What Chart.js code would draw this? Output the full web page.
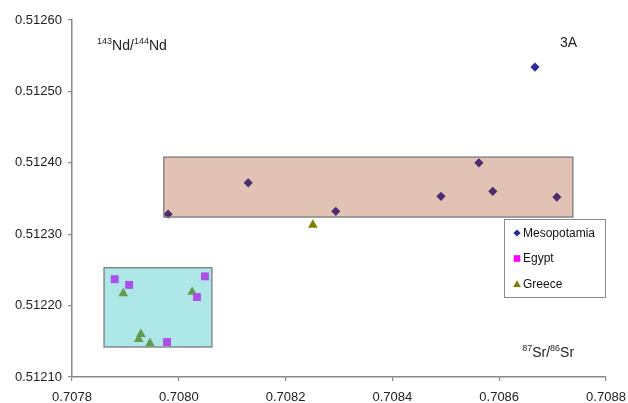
<!DOCTYPE html>
<html>
<head>
<meta charset="utf-8">
<script src="https://cdn.jsdelivr.net/npm/chart.js@4.4.1/dist/chart.umd.min.js"></script>
<style>
html, body { margin: 0; padding: 0; background: #fff; }
#wrap { width: 628px; height: 403px; }
</style>
</head>
<body>
<div id="wrap"><canvas id="chart" width="628" height="403"></canvas></div>
<script>
// 87Sr/86Sr (x) vs 143Nd/144Nd (y)
const mesoX = [0.708667, 0.708562, 0.708491, 0.708588, 0.708708, 0.707980, 0.708130, 0.708294];
const mesoY = [0.512534, 0.512400, 0.512353, 0.512360, 0.512352, 0.512328, 0.512372, 0.512332];
const egyptX = [0.707880, 0.707907, 0.708049, 0.708034, 0.707978];
const egyptY = [0.512237, 0.512229, 0.512241, 0.512212, 0.512149];
const greeceX = [0.708251, 0.707896, 0.708025, 0.707929, 0.707925, 0.707946];
const greeceY = [0.512313, 0.512217, 0.512219, 0.512160, 0.512153, 0.512147];

// shaded fields (pink = Mesopotamia, cyan = Egypt/Greece)
const boxXMin = [0.707972, 0.707860];
const boxXMax = [0.708738, 0.708062];
const boxYMin = [0.512324, 0.512142];
const boxYMax = [0.512408, 0.512253];

const xTicks = [0.7078, 0.7080, 0.7082, 0.7084, 0.7086, 0.7088];
const yTicks = [0.51210, 0.51220, 0.51230, 0.51240, 0.51250, 0.51260];

const FONT = '"Liberation Sans", Arial, sans-serif';
const boxFills = ['rgba(158, 52, 5, 0.3)', 'rgba(52, 195, 198, 0.4)'];

const toPoints = (xs, ys) => xs.map((x, i) => ({ x: x, y: ys[i] }));

function drawSup(ctx, parts, x, y, size) {
    let cx = x;
    parts.forEach(([t, sup]) => {
        ctx.font = (sup ? Math.round(size * 0.62) : size) + 'px ' + FONT;
        ctx.fillText(t, cx, sup ? y - size * 0.3 : y);
        cx += ctx.measureText(t).width;
    });
}

function marker(ctx, style, x, y, r, color) {
    ctx.fillStyle = color;
    ctx.beginPath();
    if (style === 'rectRot') {
        ctx.moveTo(x, y - r); ctx.lineTo(x + r, y); ctx.lineTo(x, y + r); ctx.lineTo(x - r, y);
    } else if (style === 'rect') {
        ctx.rect(x - r, y - r, 2 * r, 2 * r);
    } else {
        ctx.moveTo(x, y - r); ctx.lineTo(x + r, y + r * 0.8); ctx.lineTo(x - r, y + r * 0.8);
    }
    ctx.closePath();
    ctx.fill();
}

const overlay = {
    id: 'overlay',
    afterDatasetsDraw(chart) {
        const { ctx, scales: { x, y } } = chart;
        ctx.save();
        boxXMin.forEach((v, i) => {
            const l = x.getPixelForValue(v), r = x.getPixelForValue(boxXMax[i]);
            const t = y.getPixelForValue(boxYMax[i]), b = y.getPixelForValue(boxYMin[i]);
            ctx.fillStyle = boxFills[i];
            ctx.fillRect(l, t, r - l, b - t);
            ctx.strokeStyle = '#7a7a7a';
            ctx.lineWidth = 1.3;
            ctx.strokeRect(l, t, r - l, b - t);
        });
        ctx.restore();
    },
    afterDraw(chart) {
        const { ctx, chartArea, scales: { x, y } } = chart;
        ctx.save();
        ctx.fillStyle = '#222';
        ctx.textBaseline = 'middle';
        ctx.textAlign = 'left';
        drawSup(ctx, [['143', true], ['Nd/', false], ['144', true], ['Nd', false]],
            x.getPixelForValue(0.707847), y.getPixelForValue(0.512564), 14);
        drawSup(ctx, [['87', true], ['Sr/', false], ['86', true], ['Sr', false]],
            x.getPixelForValue(0.708643), y.getPixelForValue(0.512134), 14);
        ctx.font = '14px ' + FONT;
        ctx.fillText('3A', x.getPixelForValue(0.708714), y.getPixelForValue(0.512568));

        // legend box
        const lw = 101, lh = 78;
        const lx = chartArea.right - lw - 1, ly = chartArea.top + 199;
        ctx.fillStyle = '#fff';
        ctx.fillRect(lx, ly, lw, lh);
        ctx.strokeStyle = '#8a8a8a';
        ctx.lineWidth = 1;
        ctx.strokeRect(lx + 0.5, ly + 0.5, lw, lh);
        const sizes = [3.6, 3.3, 3.8];
        chart.data.datasets.forEach((ds, i) => {
            const cy = ly + 14 + i * 25.5;
            marker(ctx, ds.pointStyle, lx + 13, cy, sizes[i], ds.backgroundColor);
            ctx.fillStyle = '#111';
            ctx.font = '12px ' + FONT;
            ctx.fillText(ds.label, lx + 19, cy + 0.5);
        });
        ctx.restore();
    }
};

const axisStyle = {
    grid: { display: true, drawOnChartArea: false, drawTicks: true, tickLength: 4, color: '#888', lineWidth: 1.2 },
    border: { display: true, color: '#888', width: 1.5 }
};

new Chart(document.getElementById('chart').getContext('2d'), {
    type: 'scatter',
    plugins: [overlay],
    data: {
        datasets: [
            { label: 'Mesopotamia', data: toPoints(mesoX, mesoY), pointStyle: 'rectRot', radius: 4.6, backgroundColor: '#2a2a9c', borderWidth: 0 },
            { label: 'Egypt', data: toPoints(egyptX, egyptY), pointStyle: 'rect', radius: 5.6, backgroundColor: '#ff00ff', borderWidth: 0 },
            { label: 'Greece', data: toPoints(greeceX, greeceY), pointStyle: 'triangle', radius: 5.6, backgroundColor: '#808000', borderWidth: 0 }
        ]
    },
    options: {
        responsive: false,
        animation: false,
        events: [],
        layout: { padding: { top: 20, right: 22, left: 0, bottom: 0 } },
        plugins: { legend: { display: false }, tooltip: { enabled: false } },
        scales: {
            x: {
                type: 'linear',
                min: 0.7078,
                max: 0.7088,
                ...axisStyle,
                afterFit: s => { s.height = 26; s.paddingLeft = 0; s.paddingRight = 0; },
                afterBuildTicks: s => { s.ticks = xTicks.map(v => ({ value: v })); },
                ticks: {
                    padding: 9,
                    color: '#222',
                    font: { family: FONT, size: 13 },
                    callback: v => v.toFixed(4)
                }
            },
            y: {
                type: 'linear',
                min: 0.5121,
                max: 0.5126,
                ...axisStyle,
                afterFit: s => { s.width = 72; s.paddingTop = 0; s.paddingBottom = 0; },
                afterBuildTicks: s => { s.ticks = yTicks.map(v => ({ value: v })); },
                ticks: {
                    padding: 6,
                    color: '#222',
                    font: { family: FONT, size: 13 },
                    callback: v => v.toFixed(5)
                }
            }
        }
    }
});
</script>
</body>
</html>
